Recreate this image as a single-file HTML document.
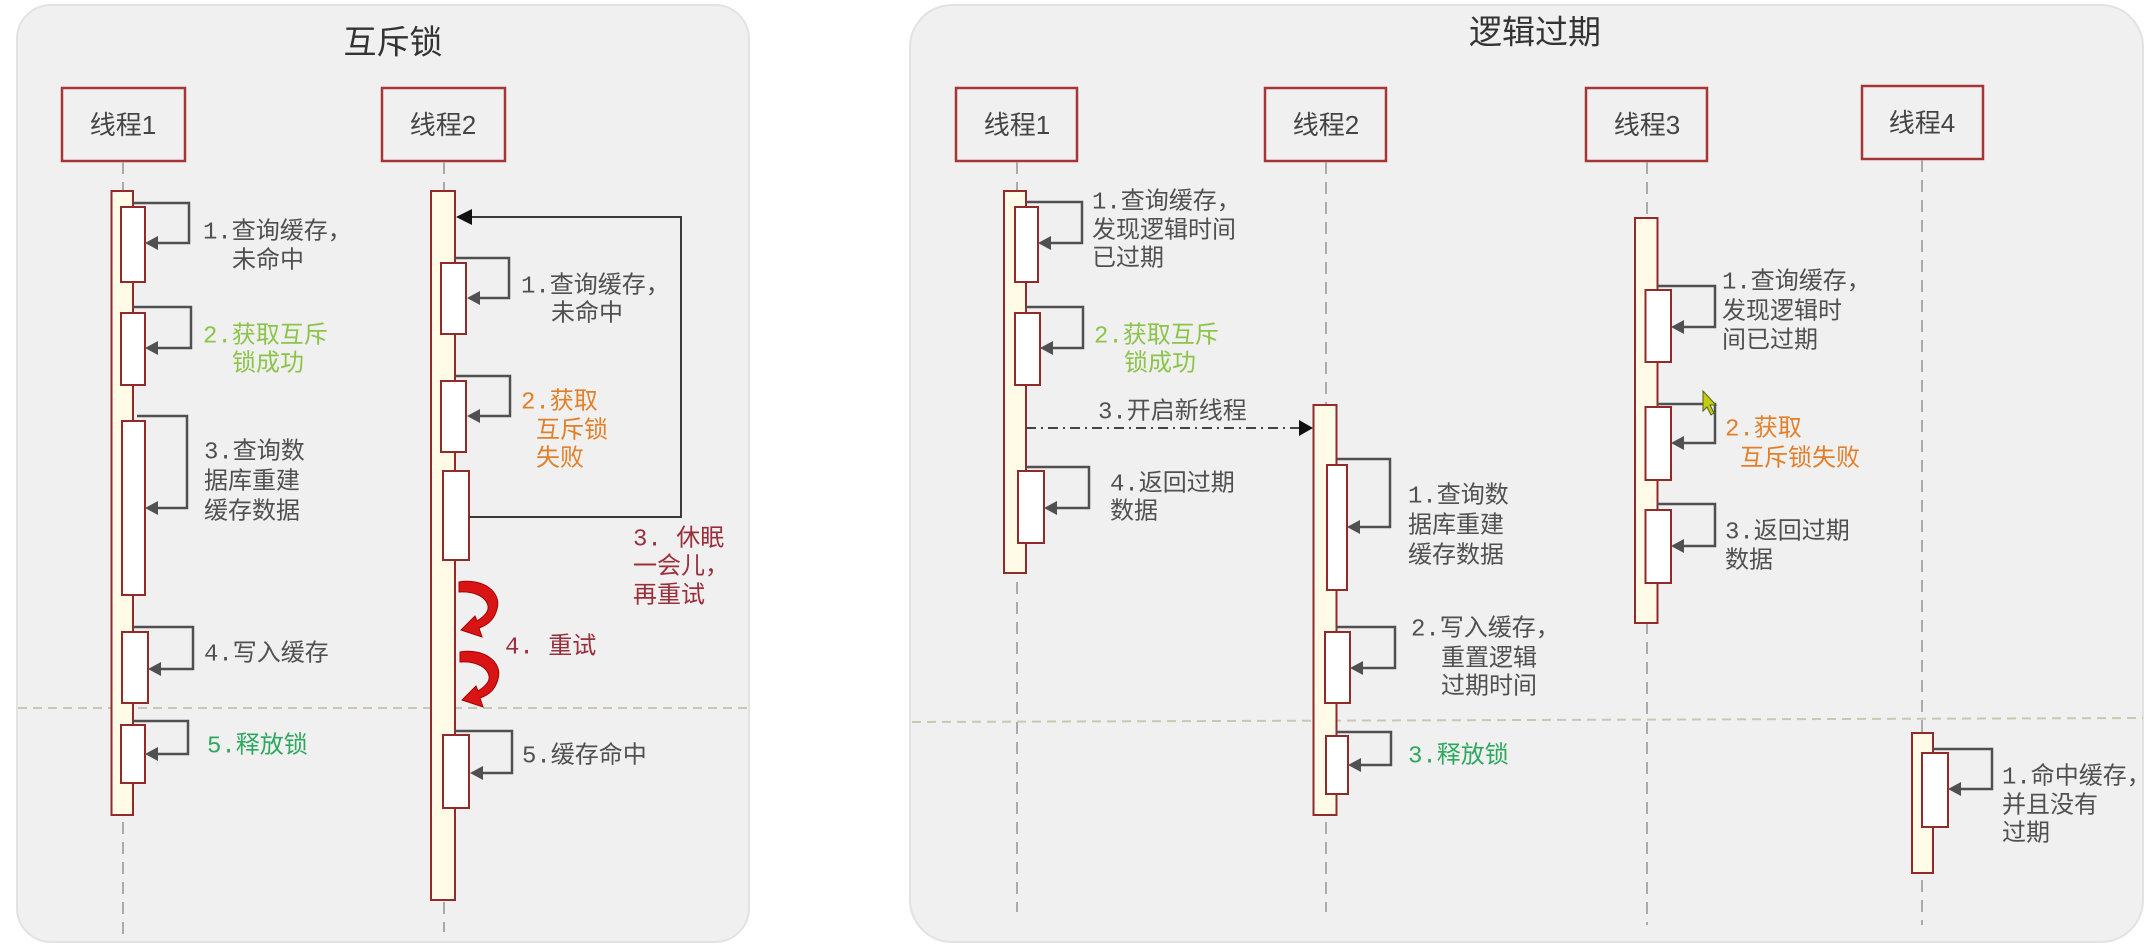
<!DOCTYPE html>
<html><head><meta charset="utf-8">
<style>
html,body{margin:0;padding:0;background:#fff;}
svg{display:block;}
.lbl{font-family:"Liberation Mono","Noto Sans CJK SC",monospace;font-size:24px;fill:#505050;dominant-baseline:central;}
.thr{font-family:"Liberation Sans","Noto Sans CJK SC",sans-serif;font-size:26px;fill:#444;text-anchor:middle;dominant-baseline:central;}
.ttl{font-family:"Liberation Sans","Noto Sans CJK SC",sans-serif;font-size:33px;fill:#333;text-anchor:middle;dominant-baseline:central;}
.g1{fill:#8cc44a;}
.g2{fill:#2ea85e;}
.or{fill:#e2802a;}
.dr{fill:#9a2f3c;}
.box{fill:none;stroke:#a83535;stroke-width:2.5;}
.bar{fill:#fffbe6;stroke:#922a2a;stroke-width:2;}
.inb{fill:#fff;stroke:#922a2a;stroke-width:2;}
.life{stroke:#aaa;stroke-width:2;stroke-dasharray:12 8;}
.sep{stroke:#c8c8b2;stroke-width:2;stroke-dasharray:9 6;}
.ar{fill:none;stroke:#505050;stroke-width:2.5;}
.ah{fill:#505050;}
</style></head>
<body>
<svg width="2151" height="946" viewBox="0 0 2151 946" xmlns="http://www.w3.org/2000/svg">
<!-- panels -->
<rect x="17" y="5" width="732" height="937" rx="34" fill="#f0f0f0" stroke="#e2e2e2" stroke-width="2"/>
<rect x="910" y="5" width="1233" height="937" rx="42" fill="#f0f0f0" stroke="#e2e2e2" stroke-width="2"/>

<!-- ============ LEFT PANEL ============ -->
<text class="ttl" x="393" y="42">互斥锁</text>
<rect class="box" x="62" y="88" width="123" height="73"/>
<text class="thr" x="123" y="125">线程1</text>
<rect class="box" x="382" y="88" width="123" height="73"/>
<text class="thr" x="443" y="125">线程2</text>

<line class="life" x1="123" y1="162" x2="123" y2="940"/>
<line class="life" x1="444" y1="162" x2="444" y2="932"/>
<line class="sep" x1="18" y1="708" x2="749" y2="708"/>

<!-- thread1 -->
<rect class="bar" x="111.5" y="191" width="21.5" height="624"/>
<rect class="inb" x="121" y="207" width="24" height="75"/>
<path class="ar" d="M133 203 H189 V243 H157"/><polygon class="ah" points="145,243 158,236 158,250"/>
<rect class="inb" x="121" y="313" width="24" height="72"/>
<path class="ar" d="M133 307 H191 V348 H157"/><polygon class="ah" points="145,348 158,341 158,355"/>
<rect class="inb" x="122" y="421" width="23" height="174"/>
<path class="ar" d="M137 416 H187 V508 H157"/><polygon class="ah" points="145,508 158,501 158,515"/>
<rect class="inb" x="122" y="632" width="26" height="71"/>
<path class="ar" d="M133 627 H193 V669 H160"/><polygon class="ah" points="148,669 161,662 161,676"/>
<rect class="inb" x="121" y="725" width="24" height="58"/>
<path class="ar" d="M133 721 H188 V754 H157"/><polygon class="ah" points="145,754 158,747 158,761"/>

<text class="lbl" x="203" y="233">1.查询缓存，</text>
<text class="lbl" x="232" y="262">未命中</text>
<text class="lbl g1" x="203" y="337">2.获取互斥</text>
<text class="lbl g1" x="232" y="365">锁成功</text>
<text class="lbl" x="204" y="453">3.查询数</text>
<text class="lbl" x="204" y="483">据库重建</text>
<text class="lbl" x="204" y="513">缓存数据</text>
<text class="lbl" x="204" y="655">4.写入缓存</text>
<text class="lbl g2" x="207" y="747">5.释放锁</text>

<!-- thread2 -->
<rect class="bar" x="431" y="191" width="24" height="709"/>
<rect class="inb" x="441" y="263" width="25" height="71"/>
<path class="ar" d="M455 258 H509 V298 H479"/><polygon class="ah" points="467,298 480,291 480,305"/>
<rect class="inb" x="441" y="381" width="25" height="71"/>
<path class="ar" d="M455 376 H510 V416 H479"/><polygon class="ah" points="467,416 480,409 480,423"/>
<rect class="inb" x="443" y="471" width="26" height="89"/>
<path d="M469 517 H681 V217 H470" fill="none" stroke="#3a3a3a" stroke-width="2"/>
<polygon points="456,217 472,209 472,225" fill="#111"/>
<rect class="inb" x="443" y="735" width="26" height="73"/>
<path class="ar" d="M455 731 H512 V773 H482"/><polygon class="ah" points="470,773 483,766 483,780"/>

<!-- red retry arrows -->
<path d="M459,582 C483,578 502,592 497,609 C494,621 485,626 479,628 L482,637 L461,630 L475,616 L477,621 C485,616 489,611 488,606 C486,596 473,591 459,592 Z" fill="#d81414" stroke="#a00" stroke-width="1"/>
<path d="M460,652 C484,648 503,662 498,679 C495,691 486,696 480,698 L483,707 L462,700 L476,686 L478,691 C486,686 490,681 489,676 C487,666 474,661 460,662 Z" fill="#d81414" stroke="#a00" stroke-width="1"/>

<text class="lbl" x="521" y="287">1.查询缓存，</text>
<text class="lbl" x="551" y="315">未命中</text>
<text class="lbl or" x="521" y="403">2.获取</text>
<text class="lbl or" x="536" y="432">互斥锁</text>
<text class="lbl or" x="536" y="460">失败</text>
<text class="lbl dr" x="633" y="540">3. 休眠</text>
<text class="lbl dr" x="633" y="568">一会儿，</text>
<text class="lbl dr" x="633" y="597">再重试</text>
<text class="lbl dr" x="505" y="648">4. 重试</text>
<text class="lbl" x="522" y="757">5.缓存命中</text>

<!-- ============ RIGHT PANEL ============ -->
<text class="ttl" x="1535" y="32">逻辑过期</text>
<rect class="box" x="956" y="88" width="121" height="73"/>
<text class="thr" x="1017" y="125">线程1</text>
<rect class="box" x="1265" y="88" width="121" height="73"/>
<text class="thr" x="1326" y="125">线程2</text>
<rect class="box" x="1586" y="88" width="121" height="73"/>
<text class="thr" x="1647" y="125">线程3</text>
<rect class="box" x="1862" y="86" width="121" height="73"/>
<text class="thr" x="1922" y="123">线程4</text>

<line class="life" x1="1017" y1="162" x2="1017" y2="912"/>
<line class="life" x1="1326" y1="162" x2="1326" y2="912"/>
<line class="life" x1="1647" y1="162" x2="1647" y2="925"/>
<line class="life" x1="1922" y1="160" x2="1922" y2="925"/>
<line class="sep" x1="912" y1="722" x2="2143" y2="718"/>

<!-- T1 -->
<rect class="bar" x="1004" y="191" width="22" height="382"/>
<rect class="inb" x="1015" y="207" width="23" height="75"/>
<path class="ar" d="M1026 202 H1082 V243 H1050"/><polygon class="ah" points="1038,243 1051,236 1051,250"/>
<rect class="inb" x="1015" y="313" width="25" height="72"/>
<path class="ar" d="M1026 307 H1083 V348 H1052"/><polygon class="ah" points="1040,348 1053,341 1053,355"/>
<rect class="inb" x="1018" y="471" width="26" height="72"/>
<path class="ar" d="M1026 467 H1089 V508 H1056"/><polygon class="ah" points="1044,508 1057,501 1057,515"/>
<line x1="1026" y1="428" x2="1300" y2="428" stroke="#444" stroke-width="2" stroke-dasharray="10 5 2 5"/>
<polygon points="1313,428 1299,420 1299,436" fill="#111"/>

<text class="lbl" x="1092" y="203">1.查询缓存，</text>
<text class="lbl" x="1092" y="232">发现逻辑时间</text>
<text class="lbl" x="1092" y="260">已过期</text>
<text class="lbl g1" x="1094" y="337">2.获取互斥</text>
<text class="lbl g1" x="1124" y="365">锁成功</text>
<text class="lbl" x="1098" y="413">3.开启新线程</text>
<text class="lbl" x="1110" y="485">4.返回过期</text>
<text class="lbl" x="1110" y="513">数据</text>

<!-- T2 -->
<rect class="bar" x="1313.5" y="405" width="23" height="410"/>
<rect class="inb" x="1327" y="465" width="20" height="125"/>
<path class="ar" d="M1337 459 H1390 V527 H1359"/><polygon class="ah" points="1347,527 1360,520 1360,534"/>
<rect class="inb" x="1325" y="632" width="25" height="71"/>
<path class="ar" d="M1336 627 H1395 V668 H1362"/><polygon class="ah" points="1350,668 1363,661 1363,675"/>
<rect class="inb" x="1326" y="736" width="22" height="58"/>
<path class="ar" d="M1336 732 H1391 V765 H1360"/><polygon class="ah" points="1348,765 1361,758 1361,772"/>

<text class="lbl" x="1408" y="497">1.查询数</text>
<text class="lbl" x="1408" y="527">据库重建</text>
<text class="lbl" x="1408" y="557">缓存数据</text>
<text class="lbl" x="1411" y="630">2.写入缓存，</text>
<text class="lbl" x="1441" y="660">重置逻辑</text>
<text class="lbl" x="1441" y="688">过期时间</text>
<text class="lbl g2" x="1408" y="757">3.释放锁</text>

<!-- T3 -->
<rect class="bar" x="1635" y="218" width="22.5" height="405"/>
<rect class="inb" x="1645.5" y="290" width="25.5" height="72"/>
<path class="ar" d="M1657 286 H1715 V327 H1683"/><polygon class="ah" points="1671,327 1684,320 1684,334"/>
<rect class="inb" x="1645.5" y="407" width="25.5" height="73"/>
<path class="ar" d="M1657 404 H1715 V443 H1683"/><polygon class="ah" points="1671,443 1684,436 1684,450"/>
<rect class="inb" x="1645.5" y="510" width="25.5" height="73"/>
<path class="ar" d="M1657 504 H1715 V546 H1683"/><polygon class="ah" points="1671,546 1684,539 1684,553"/>
<!-- cursor -->
<polygon points="1703,391 1703,411 1707,407 1711,415 1714,413 1710,405 1716,405" fill="#c4cc10" stroke="#55601a" stroke-width="1"/>

<text class="lbl" x="1722" y="283">1.查询缓存，</text>
<text class="lbl" x="1722" y="313">发现逻辑时</text>
<text class="lbl" x="1722" y="342">间已过期</text>
<text class="lbl or" x="1725" y="430">2.获取</text>
<text class="lbl or" x="1740" y="460">互斥锁失败</text>
<text class="lbl" x="1725" y="533">3.返回过期</text>
<text class="lbl" x="1725" y="562">数据</text>

<!-- T4 -->
<rect class="bar" x="1912" y="733" width="21" height="140"/>
<rect class="inb" x="1922" y="753" width="26" height="74"/>
<path class="ar" d="M1933 749 H1992 V789 H1960"/><polygon class="ah" points="1948,789 1961,782 1961,796"/>
<text class="lbl" x="2002" y="778">1.命中缓存，</text>
<text class="lbl" x="2002" y="807">并且没有</text>
<text class="lbl" x="2002" y="835">过期</text>
</svg>
</body></html>
